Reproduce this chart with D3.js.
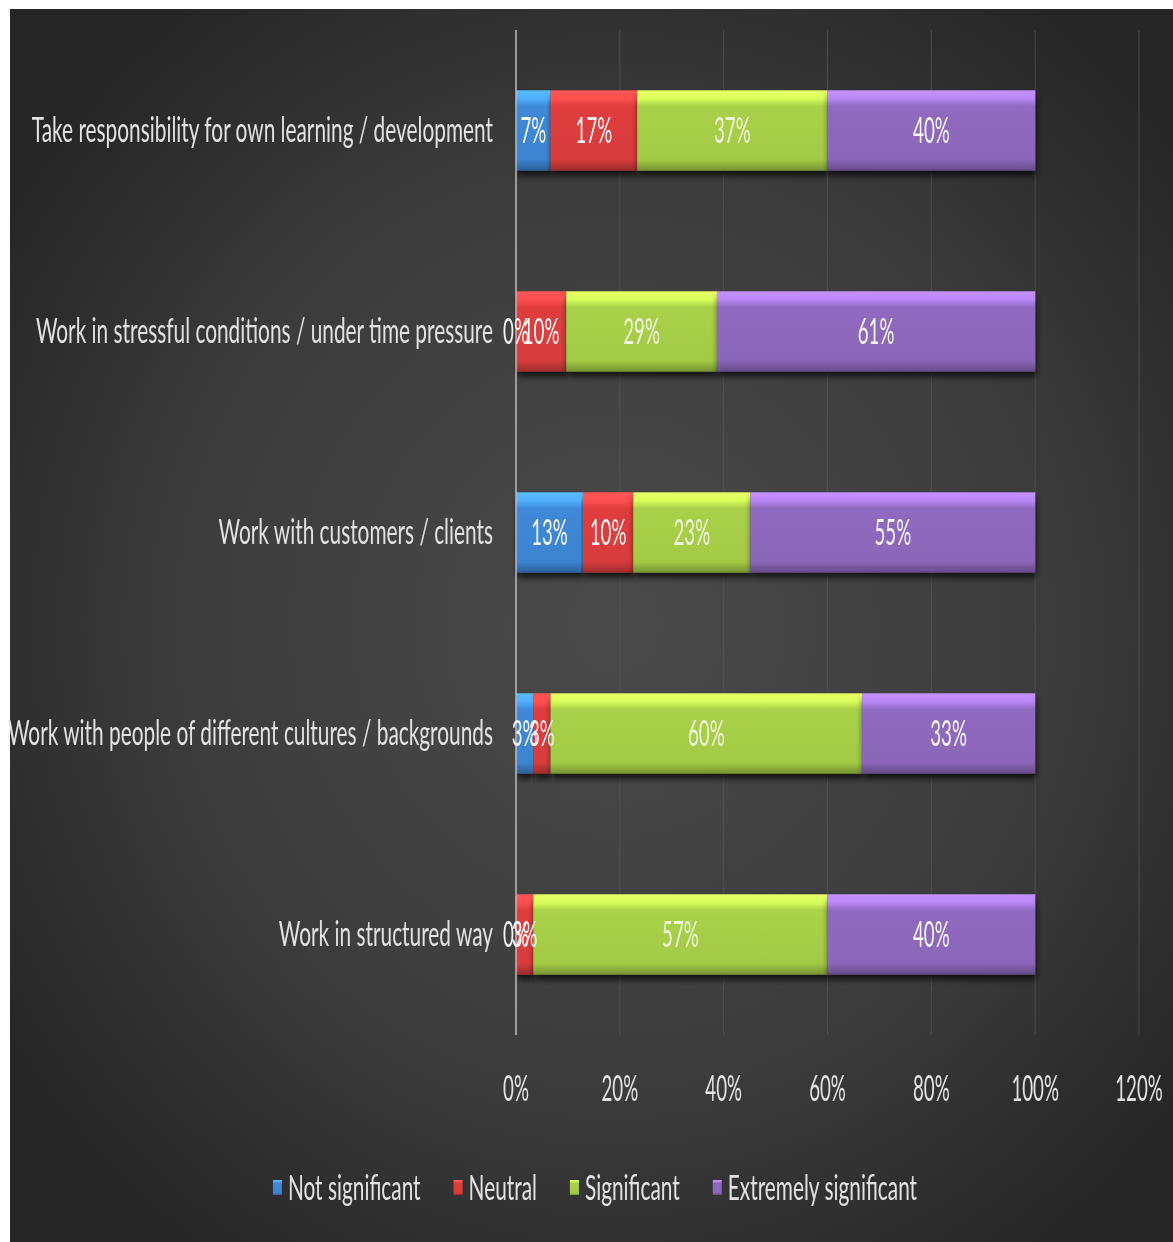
<!DOCTYPE html>
<html>
<head>
<meta charset="utf-8">
<script src="https://cdn.jsdelivr.net/npm/d3@7"></script>
<style>
  html, body { margin: 0; padding: 0; background: #ffffff; }
  svg { display: block; }
  text { font-family: Lato, "Open Sans", sans-serif; }
</style>
</head>
<body>
<svg id="chart" width="1173" height="1242"></svg>
<script>
// Survey items (top to bottom)
const categories = [
  "Take responsibility for own learning / development",
  "Work in stressful conditions / under time pressure",
  "Work with customers / clients",
  "Work with people of different cultures / backgrounds",
  "Work in structured way"
];

// Rating levels, in stacking order
const seriesNames = ["Not significant", "Neutral", "Significant", "Extremely significant"];

// Share of respondents per rating (percent), one array per rating level
const notSignificant       = [6.67, 0, 12.90, 3.33, 0];
const neutral              = [16.67, 9.68, 9.68, 3.33, 3.33];
const significant          = [36.67, 29.03, 22.58, 60.00, 56.67];
const extremelySignificant = [40.00, 61.29, 54.84, 33.33, 40.00];

const xTicks = [0, 20, 40, 60, 80, 100, 120];

const seriesColors = ["#3d84d0", "#d83c3c", "#a3ca45", "#8b66b9"];

const rows = categories.map((c, i) => ({
  category: c,
  "Not significant": notSignificant[i],
  "Neutral": neutral[i],
  "Significant": significant[i],
  "Extremely significant": extremelySignificant[i]
}));

const svg = d3.select("#chart");
const W = 1173, H = 1242;

// ---- background panel with soft radial shading ----
const defs = svg.append("defs");
const bg = defs.append("radialGradient").attr("id", "bgGrad")
  .attr("cx", "52%").attr("cy", "50%").attr("r", "62%");
bg.append("stop").attr("offset", "0%").attr("stop-color", "#4a4a4a");
bg.append("stop").attr("offset", "60%").attr("stop-color", "#3c3c3c");
bg.append("stop").attr("offset", "100%").attr("stop-color", "#262626");

svg.append("rect").attr("x", 10).attr("y", 9).attr("width", W - 10).attr("height", H - 9)
  .attr("fill", "url(#bgGrad)");

// bar gradients: bevelled highlight at top, darker lower edge
seriesColors.forEach((col, i) => {
  const c = d3.color(col);
  const g = defs.append("linearGradient").attr("id", "barGrad" + i)
    .attr("x1", 0).attr("y1", 0).attr("x2", 0).attr("y2", 1);
  g.append("stop").attr("offset", "0%").attr("stop-color", c.brighter(1.0));
  g.append("stop").attr("offset", "10%").attr("stop-color", c.brighter(0.8));
  g.append("stop").attr("offset", "20%").attr("stop-color", c.brighter(0.1));
  g.append("stop").attr("offset", "86%").attr("stop-color", col);
  g.append("stop").attr("offset", "100%").attr("stop-color", c.darker(0.9));
});

const shadow = defs.append("filter").attr("id", "barShadow")
  .attr("x", "-5%").attr("y", "-20%").attr("width", "110%").attr("height", "150%");
shadow.append("feGaussianBlur").attr("in", "SourceAlpha").attr("stdDeviation", 3);
shadow.append("feOffset").attr("dx", 1).attr("dy", 5).attr("result", "off");
shadow.append("feComponentTransfer").append("feFuncA").attr("type", "linear").attr("slope", 0.7);
const merge = shadow.append("feMerge");
merge.append("feMergeNode");
merge.append("feMergeNode").attr("in", "SourceGraphic");

const soften = defs.append("filter").attr("id", "soft");
soften.append("feGaussianBlur").attr("stdDeviation", 0.5);

// ---- scales ----
const x = d3.scaleLinear().domain([0, 120]).range([516, 1139]);
const y = d3.scaleBand().domain(categories).range([30, 1035])
  .paddingInner(0.6).paddingOuter(0.3);

const condenseCat = 0.613;
const condenseNum = 0.52;
const pct = v => d3.format(".0f")(v) + "%";

// gridlines
svg.append("g").selectAll("line").data(xTicks.slice(1)).join("line")
  .attr("x1", d => x(d)).attr("x2", d => x(d))
  .attr("y1", 30).attr("y2", 1035)
  .attr("stroke", "#575757").attr("stroke-width", 1).attr("opacity", 0.7);

// stacked bars
const stack = d3.stack().keys(seriesNames);
const stacked = stack(rows);

const layers = svg.append("g").selectAll("g").data(stacked).join("g")
  .attr("fill", (d, i) => `url(#barGrad${i})`);

layers.selectAll("rect").data(d => d.map(p => ({ p, key: d.key }))).join("rect")
  .attr("x", d => x(d.p[0]))
  .attr("y", d => y(d.p.data.category))
  .attr("width", d => Math.max(0, x(d.p[1]) - x(d.p[0])))
  .attr("height", y.bandwidth())
  .attr("filter", "url(#barShadow)");

// value axis line at 0%
svg.append("line").attr("x1", x(0)).attr("x2", x(0)).attr("y1", 30).attr("y2", 1035)
  .attr("stroke", "#bdbdbd").attr("stroke-width", 1.5);

// data labels
const labelG = svg.append("g").attr("filter", "url(#soft)");
stacked.forEach((layer, si) => {
  layer.forEach(p => {
    const cx = (x(p[0]) + x(p[1])) / 2;
    const cy = y(p.data.category) + y.bandwidth() / 2;
    labelG.append("text")
      .attr("transform", `translate(${cx},${cy}) scale(${condenseNum},1)`)
      .attr("text-anchor", "middle").attr("dy", "0.36em")
      .attr("font-size", 36)
      .attr("fill", si === 2 ? "#eef5dc" : "#f4f4f4")
      .text(pct(p[1] - p[0]));
  });
});

// category axis labels
const catG = svg.append("g").attr("filter", "url(#soft)");
categories.forEach(c => {
  catG.append("text")
    .attr("transform", `translate(493,${y(c) + y.bandwidth() / 2}) scale(${condenseCat},1)`)
    .attr("text-anchor", "end").attr("dy", "0.35em")
    .attr("font-size", 34).attr("fill", "#e2e2e2")
    .text(c);
});

// value axis tick labels
const tickG = svg.append("g").attr("filter", "url(#soft)");
xTicks.forEach(t => {
  tickG.append("text")
    .attr("transform", `translate(${x(t)},1088) scale(${condenseNum},1)`)
    .attr("text-anchor", "middle").attr("dy", "0.36em")
    .attr("font-size", 36).attr("fill", "#e2e2e2")
    .text(t + "%");
});

// legend
const legendG = svg.append("g").attr("filter", "url(#soft)");
const legendY = 1188;
const items = seriesNames.map((name, i) => {
  const g = legendG.append("g");
  g.append("rect").attr("width", 9).attr("height", 15).attr("y", -8)
    .attr("fill", `url(#barGrad${i})`);
  const t = g.append("text")
    .attr("transform", `translate(15,0) scale(${condenseCat},1)`)
    .attr("dy", "0.35em").attr("font-size", 34).attr("fill", "#e2e2e2")
    .text(name);
  const w = 15 + t.node().getComputedTextLength() * condenseCat;
  return { g, w };
});
const gap = 33;
const totalW = d3.sum(items, d => d.w) + gap * (items.length - 1);
let lx = 595 - totalW / 2;
items.forEach(it => {
  it.g.attr("transform", `translate(${lx},${legendY})`);
  lx += it.w + gap;
});
</script>
</body>
</html>
